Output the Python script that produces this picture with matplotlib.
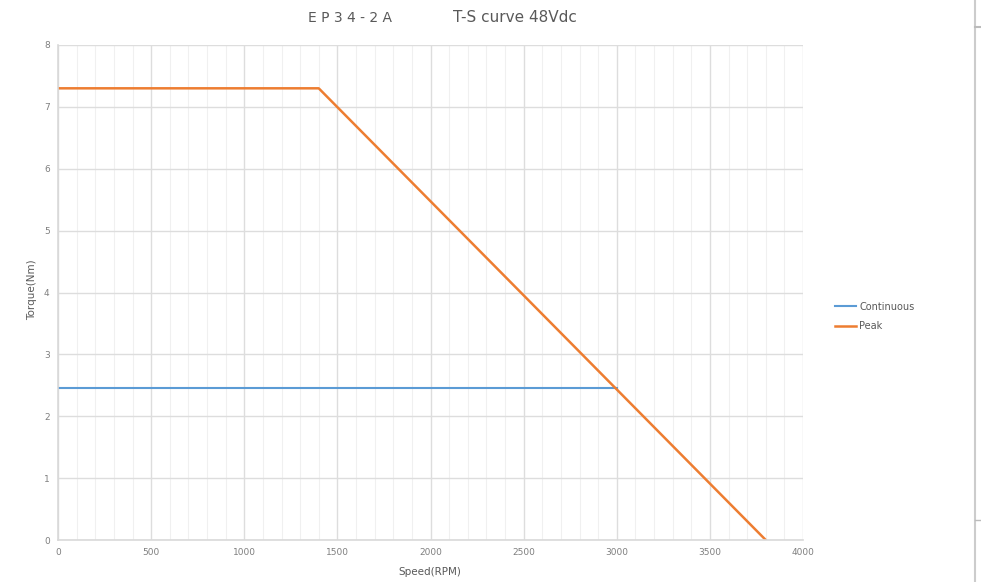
import numpy as np
import matplotlib.pyplot as plt
from matplotlib.lines import Line2D

# datos
velocidad_cont = [0, 3000]
torque_cont = [2.45, 2.45]
velocidad_peak = [0, 1400, 3800]
torque_peak = [7.3, 7.3, 0]

plt.rcParams['font.family'] = ['DejaVu Sans']

fig = plt.figure(figsize=(9.81, 5.82), dpi=100)
ax = fig.add_axes([58/981, 1-540/582, (803-58)/981, (540-45)/582])

ax.plot(velocidad_cont, torque_cont, color='#5B9BD5', lw=1.5, label='Continuous')
ax.plot(velocidad_peak, torque_peak, color='#ED7D31', lw=1.8, label='Peak')

ax.set_xlim(0, 4000)
ax.set_ylim(0, 8)
ax.set_xticks(np.arange(0, 4001, 500))
ax.set_xticks(np.arange(0, 4001, 100), minor=True)
ax.set_yticks(np.arange(0, 9, 1))
ax.grid(True, which='major', color='#dddddd', lw=1)
ax.grid(True, which='minor', axis='x', color='#f0f0f0', lw=0.8)
ax.set_axisbelow(True)
ax.tick_params(which='both', length=0, labelsize=6.5, labelcolor='#7f7f7f', pad=6)
for s in ['top', 'right']:
    ax.spines[s].set_visible(False)
for s in ['left', 'bottom']:
    ax.spines[s].set_color('#d9d9d9')
    ax.spines[s].set_linewidth(1.2)

fig.text(430/981, 1-572/582, 'Speed(RPM)', ha='center', va='center', fontsize=7.5, color='#595959')
fig.text(32/981, 1-290/582, 'Torque(Nm)', ha='center', va='center', fontsize=7.5, color='#595959', rotation=90)

fig.text(350/981, 1-18/582, 'E P 3 4 - 2 A', ha='center', va='center', fontsize=10, color='#595959')
fig.text(515/981, 1-18/582, 'T-S curve 48Vdc', ha='center', va='center', fontsize=11, color='#595959')

fig.legend(loc='upper left', bbox_to_anchor=(826/981, 1-293/582), frameon=False,
           fontsize=7, labelcolor='#595959', handlelength=2.2, handletextpad=0.3, labelspacing=1.0)

# linea vertical a la derecha
fig.add_artist(Line2D([975/981, 975/981], [0, 1], color='#cccccc', lw=1.5))
fig.add_artist(Line2D([975/981, 981/981], [1-27/582, 1-27/582], color='#bbbbbb', lw=1.5))
fig.add_artist(Line2D([975/981, 981/981], [1-520/582, 1-520/582], color='#bbbbbb', lw=1))

fig.savefig('out.png', dpi=100)
